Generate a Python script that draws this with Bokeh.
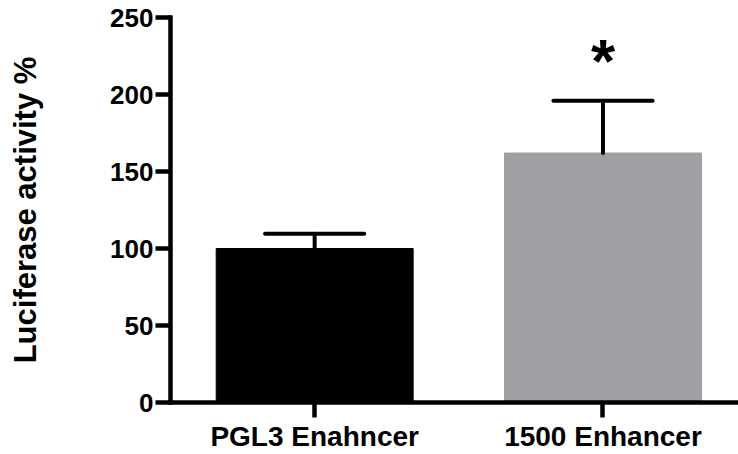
from bokeh.plotting import figure
from bokeh.models import Range1d, FixedTicker, ColumnDataSource, Label
from bokeh.embed import file_html
from bokeh.resources import INLINE

# ---- data ----
categories = ["PGL3 Enahncer", "1500 Enhancer"]
means = [100, 162]
errors = [9.5, 34]
significance = ["", "*"]
bar_colors = ["#000000", "#A09FA4"]
y_ticks = [0, 50, 100, 150, 200, 250]

FONT = "Liberation Sans"
xpos = [i + 0.5 for i in range(len(categories))]

p = figure(width=738, height=454, output_backend="svg", toolbar_location=None,
           x_range=Range1d(0, 1.97), y_range=Range1d(0, 250),
           min_border_left=170, min_border_right=0, min_border_top=17,
           min_border_bottom=50)
p.outline_line_color = None
p.xgrid.visible = False
p.ygrid.visible = False
p.background_fill_color = "white"
p.border_fill_color = "white"

src = ColumnDataSource(dict(x=xpos, top=means, color=bar_colors,
                            err_top=[m + e for m, e in zip(means, errors)]))
p.vbar(x="x", top="top", bottom=0, width=0.683, fill_color="color",
       line_color="color", source=src)
# error bars (upper only)
p.segment(x0="x", y0="top", x1="x", y1="err_top", line_color="black",
          line_width=4, line_cap="round", source=src)
cap_half = 0.172
p.segment(x0=[x - cap_half for x in xpos], y0=src.data["err_top"],
          x1=[x + cap_half for x in xpos], y1=src.data["err_top"],
          line_color="black", line_width=4, line_cap="round")

# significance stars
for x, m, e, s in zip(xpos, means, errors, significance):
    if s:
        p.add_layout(Label(x=x, y=m + e + 26, text=s, text_align="center",
                           text_baseline="alphabetic", text_font=FONT,
                           text_font_style="bold", text_font_size="62px",
                           text_color="black"))

# y axis
yax = p.yaxis[0]
yax.ticker = FixedTicker(ticks=y_ticks)
yax.axis_label = "Luciferase activity %"
yax.axis_label_text_font = FONT
yax.axis_label_text_font_style = "bold"
yax.axis_label_text_font_size = "31px"
yax.axis_label_text_color = "black"
yax.axis_label_standoff = 64
yax.major_label_text_font = FONT
yax.major_label_text_font_style = "bold"
yax.major_label_text_font_size = "26px"
yax.major_label_text_color = "black"
yax.major_label_standoff = 2
yax.major_tick_out = 15
yax.major_tick_in = 0
yax.minor_tick_out = 0
yax.minor_tick_in = 0
yax.axis_line_width = 4.5
yax.major_tick_line_width = 4.5
yax.axis_line_cap = "square"
yax.major_tick_line_cap = "butt"

# x axis
xax = p.xaxis[0]
xax.ticker = FixedTicker(ticks=xpos)
xax.major_label_overrides = {x: c for x, c in zip(xpos, categories)}
xax.major_label_text_font = FONT
xax.major_label_text_font_style = "bold"
xax.major_label_text_font_size = "28px"
xax.major_label_text_color = "black"
xax.major_label_text_line_height = 1.0
xax.major_label_standoff = 3
xax.major_tick_out = 15
xax.major_tick_in = 0
xax.minor_tick_out = 0
xax.minor_tick_in = 0
xax.axis_line_width = 4.5
xax.major_tick_line_width = 4.5
xax.axis_line_cap = "square"

open("out.html", "w").write(file_html(p, INLINE))
